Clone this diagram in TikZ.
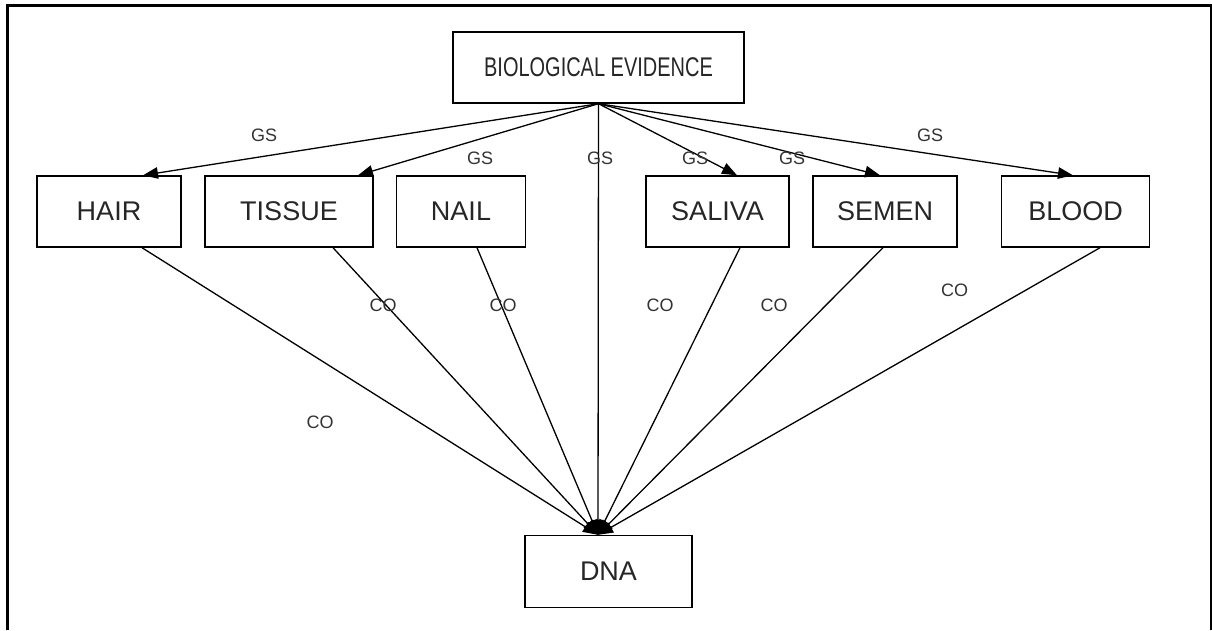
\documentclass[tikz,border=0pt]{standalone}
\usepackage{fontspec}
\setmainfont{Liberation Sans}
\usepackage{tikz}
\usetikzlibrary{arrows.meta}

\tikzset{
    evbox/.style={draw, line width=1.4pt, inner sep=0pt, minimum height=71pt,
        text=black!85, font=\fontsize{27}{32}\selectfont},
    gs/.style={-{Triangle[length=15pt,width=11.5pt]}, line width=1.3pt},
    co/.style={-{Triangle[length=15pt,width=11.5pt]}, line width=1.3pt},
    lbl/.style={inner sep=0pt, text=black!80, font=\fontsize{18}{22}\selectfont}
}

\begin{document}
\begin{tikzpicture}[x=1pt, y=-1pt]
    % Fix the page to the size of the picture
    \useasboundingbox (0,0) rectangle (1212,630);

    % Outer frame (open at the bottom)
    \draw[line width=3pt] (7,630) -- (7,5.5) -- (1211.5,5.5) -- (1211.5,630);

    % Top node
    \node[evbox, minimum width=291pt] (bio) at (598.5,67.5)
        {\scalebox{0.74}[1]{BIOLOGICAL EVIDENCE}};

    % Kinds of evidence
    \node[evbox, minimum width=144pt] (hair)   at (109,211.5)   {HAIR};
    \node[evbox, minimum width=168pt] (tissue) at (289,211.5)   {TISSUE};
    \node[evbox, minimum width=129pt] (nail)   at (461,211.5)   {NAIL};
    \node[evbox, minimum width=143pt] (saliva) at (717.5,211.5) {SALIVA};
    \node[evbox, minimum width=144pt] (semen)  at (885,211.5)   {SEMEN};
    \node[evbox, minimum width=148pt] (blood)  at (1075.5,211.5) {BLOOD};

    % Bottom node
    \node[evbox, minimum width=167pt, minimum height=72pt] (dna) at (608.5,571.5) {DNA};

    % GS arrows from the top node
    \draw[gs] (bio.south) -- ([xshift=34pt]hair.north);
    \draw[gs] (bio.south) -- ([xshift=69pt]tissue.north);
    \draw[gs] (bio.south) -- ([xshift=19.5pt]saliva.north);
    \draw[gs] (bio.south) -- ([xshift=-5pt]semen.north);
    \draw[gs] (bio.south) -- ([xshift=-2.5pt]blood.north);
    \draw[gs] (bio.south) -- ([xshift=-10.5pt]dna.north);

    % CO arrows down to DNA
    \draw[co] ([xshift=33pt]hair.south)     -- ([xshift=-10.5pt]dna.north);
    \draw[co] ([xshift=44pt]tissue.south)   -- ([xshift=-10.5pt]dna.north);
    \draw[co] ([xshift=16pt]nail.south)     -- ([xshift=-10.5pt]dna.north);
    \draw[co] ([xshift=22.5pt]saliva.south) -- ([xshift=-10.5pt]dna.north);
    \draw[co] ([xshift=-2pt]semen.south)    -- ([xshift=-10.5pt]dna.north);
    \draw[co] ([xshift=24.5pt]blood.south)  -- ([xshift=-10.5pt]dna.north);

    % Labels
    \node[lbl] (gs1) at (264,135) {GS};
    \node[lbl] (gs2) at (480,158) {GS};
    \node[lbl] (gs3) at (600,158) {GS};
    \node[lbl] (gs4) at (695,158) {GS};
    \node[lbl] (gs5) at (792,158) {GS};
    \node[lbl] (gs6) at (930,135) {GS};

    \node[lbl] (co1) at (320,422) {CO};
    \node[lbl] (co2) at (383,305) {CO};
    \node[lbl] (co3) at (503,305) {CO};
    \node[lbl] (co4) at (660,305) {CO};
    \node[lbl] (co5) at (774,305) {CO};
    \node[lbl] (co6) at (954.5,290) {CO};

\end{tikzpicture}
\end{document}
